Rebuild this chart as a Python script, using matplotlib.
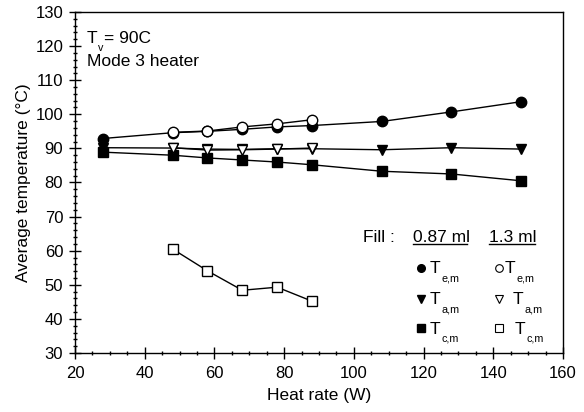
import matplotlib
matplotlib.use("Agg")
import matplotlib.pyplot as plt
from matplotlib.ticker import MultipleLocator

plt.rcParams['font.family'] = ['Liberation Sans', 'DejaVu Sans']

# Data
x_087 = [28, 48, 58, 68, 78, 88, 108, 128, 148]
te_087 = [92.9, 94.6, 95.0, 95.6, 96.3, 96.7, 97.9, 100.7, 103.7]
ta_087 = [90.2, 90.1, 89.8, 89.7, 89.9, 89.9, 89.6, 90.2, 89.8]
tc_087 = [88.9, 88.0, 87.2, 86.6, 86.0, 85.2, 83.3, 82.5, 80.5]

x_13 = [48, 58, 68, 78, 88]
te_13 = [94.7, 95.1, 96.3, 97.2, 98.4]
ta_13 = [90.2, 89.5, 89.6, 89.8, 90.1]
tc_13 = [60.5, 54.1, 48.4, 49.3, 45.2]

fig = plt.figure(figsize=(5.84, 4.12), dpi=100)
ax = fig.add_axes([0.1284, 0.1432, 0.8356, 0.8277])

ms = 7.5
lw = 1.0
ax.plot(x_087, te_087, '-', color='black', lw=lw, marker='o', ms=ms, mfc='black', mec='black', zorder=3)
ax.plot(x_087, ta_087, '-', color='black', lw=lw, marker='v', ms=ms, mfc='black', mec='black', zorder=3)
ax.plot(x_087, tc_087, '-', color='black', lw=lw, marker='s', ms=ms - 0.5, mfc='black', mec='black', zorder=3)
ax.plot(x_13, te_13, '-', color='black', lw=lw, marker='o', ms=ms, mfc='white', mec='black', mew=1.0, zorder=4)
ax.plot(x_13, ta_13, '-', color='black', lw=lw, marker='v', ms=ms, mfc='white', mec='black', mew=1.0, zorder=4)
ax.plot(x_13, tc_13, '-', color='black', lw=lw, marker='s', ms=ms - 0.5, mfc='white', mec='black', mew=1.0, zorder=4)

ax.set_xlim(20, 160)
ax.set_ylim(30, 130)
ax.xaxis.set_major_locator(MultipleLocator(20))
ax.xaxis.set_minor_locator(MultipleLocator(5))
ax.yaxis.set_major_locator(MultipleLocator(10))
ax.yaxis.set_minor_locator(MultipleLocator(2))
ax.tick_params(which='major', direction='inout', length=9, width=1, labelsize=12, pad=4)
ax.tick_params(which='minor', direction='inout', length=3, width=1)
ax.tick_params(axis='x', which='major', pad=5)
for s in ax.spines.values():
    s.set_linewidth(1.0)
    s.set_color('black')

ax.set_xlabel('Heat rate (W)', fontsize=12.5, labelpad=5)
ax.set_ylabel('Average temperature (°C)', fontsize=12.5, labelpad=3)


def ax_x(px):
    return (px - 75) / (563 - 75)


def ax_y(py):
    return (353 - py) / (353 - 12)


fs = 12.5


def sub_text(xp, yp, main, sub, size=fs):
    ax.text(ax_x(xp), ax_y(yp), main, transform=ax.transAxes, fontsize=size, va='center', ha='left')
    ax.annotate(sub, xy=(ax_x(xp), ax_y(yp)), xycoords='axes fraction',
                xytext=(size * 0.66, -size * 0.55), textcoords='offset points',
                fontsize=size * 0.62, va='center', ha='left')


ax.text(ax_x(87), ax_y(39), 'T', transform=ax.transAxes, fontsize=fs, va='center', ha='left')
ax.annotate('v', xy=(ax_x(87), ax_y(39)), xycoords='axes fraction',
            xytext=(fs * 0.62, -fs * 0.5), textcoords='offset points',
            fontsize=fs * 0.62, va='center', ha='left')
ax.annotate('= 90C', xy=(ax_x(87), ax_y(39)), xycoords='axes fraction',
            xytext=(fs * 0.62 + 4.5, 0), textcoords='offset points',
            fontsize=fs, va='center', ha='left')
ax.text(ax_x(87), ax_y(62), 'Mode 3 heater', transform=ax.transAxes, fontsize=fs, va='center', ha='left')

# Legend (manual)
ax.text(ax_x(363), ax_y(238), 'Fill :', transform=ax.transAxes, fontsize=fs, va='center', ha='left')
ax.text(ax_x(413), ax_y(238), '0.87 ml', transform=ax.transAxes, fontsize=fs, va='center', ha='left')
ax.text(ax_x(489), ax_y(238), '1.3 ml', transform=ax.transAxes, fontsize=fs, va='center', ha='left')
ax.plot([ax_x(413), ax_x(467)], [ax_y(244), ax_y(244)], transform=ax.transAxes, color='black', lw=1)
ax.plot([ax_x(489), ax_x(535)], [ax_y(244), ax_y(244)], transform=ax.transAxes, color='black', lw=1)

rows = [268, 299, 328]
mk = ['o', 'v', 's']
subs = ['e,m', 'a,m', 'c,m']
txt2 = [505, 513, 515]
for r, m, sb, t2 in zip(rows, mk, subs, txt2):
    ax.plot([ax_x(421.5)], [ax_y(r)], transform=ax.transAxes, marker=m, ms=5.5, mfc='black', mec='black', ls='none')
    sub_text(430, r + 1, 'T', sb)
    ax.plot([ax_x(499)], [ax_y(r)], transform=ax.transAxes, marker=m, ms=5.5, mfc='white', mec='black', mew=0.8, ls='none')
    sub_text(t2, r + 1, 'T', sb)

fig.savefig('out.png', dpi=100)
